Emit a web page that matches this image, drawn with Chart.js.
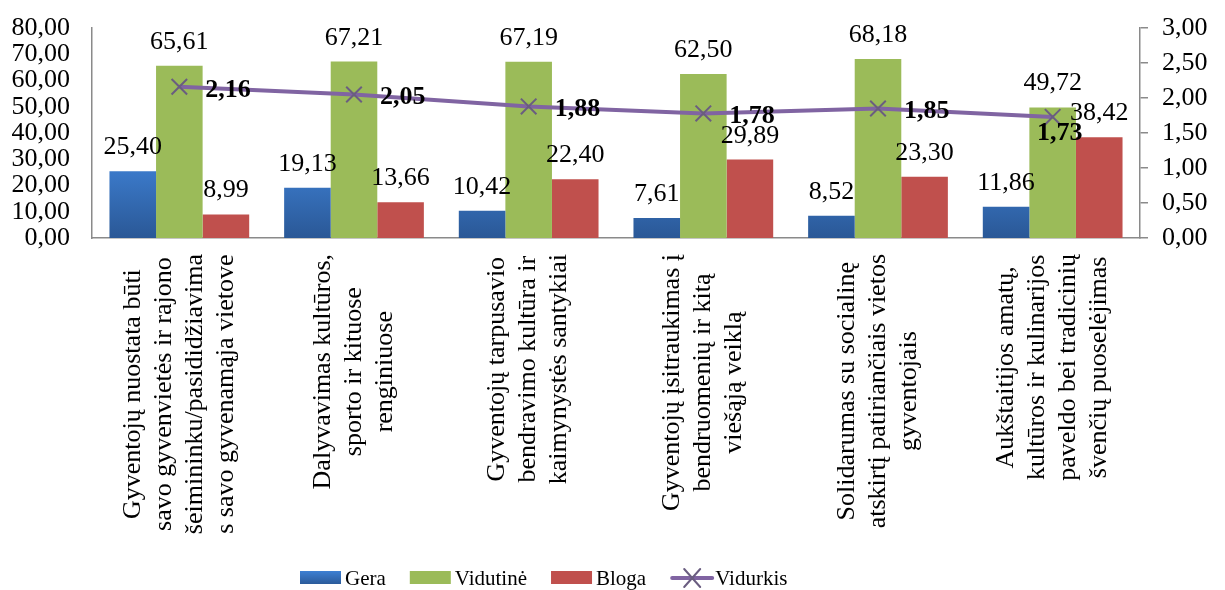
<!DOCTYPE html>
<html>
<head>
<meta charset="utf-8">
<script src="https://cdn.jsdelivr.net/npm/chart.js@4.4.1/dist/chart.umd.min.js"></script>
<style>
  html, body { margin: 0; padding: 0; background: #fff; }
</style>
</head>
<body>
<canvas id="chart" width="1225" height="590"></canvas>
<script>
const categories = [
  ["Gyventojų nuostata būti", "savo gyvenvietės ir rajono", "šeimininku/pasididžiavima", "s savo gyvenamąja vietove"],
  ["Dalyvavimas kultūros,", "sporto ir kituose", "renginiuose"],
  ["Gyventojų tarpusavio", "bendravimo kultūra ir", "kaimynystės santykiai"],
  ["Gyventojų įsitraukimas į", "bendruomenių ir kitą", "viešąją veiklą"],
  ["Solidarumas su socialinę", "atskirtį patiriančiais vietos", "gyventojais"],
  ["Aukštaitijos amatų,", "kultūros ir kulinarijos", "paveldo bei tradicinių", "švenčių puoselėjimas"]
];
const gera = [25.40, 19.13, 10.42, 7.61, 8.52, 11.86];
const vidutine = [65.61, 67.21, 67.19, 62.50, 68.18, 49.72];
const bloga = [8.99, 13.66, 22.40, 29.89, 23.30, 38.42];
const vidurkis = [2.16, 2.05, 1.88, 1.78, 1.85, 1.73];

const FONT = '"Liberation Serif", "Times New Roman", serif';
const fmt = v => v.toFixed(2).replace(".", ",");

function blueFill(c) {
  const a = c.chart.chartArea;
  if (!a) return "#3A73BE";
  const g = c.chart.ctx.createLinearGradient(0, a.bottom - 80, 0, a.bottom);
  g.addColorStop(0, "#3E80D3");
  g.addColorStop(1, "#2A5896");
  return g;
}

// value labels over the bars and next to the line points
const valueLabels = {
  id: "valueLabels",
  afterDatasetsDraw(chart) {
    const ctx = chart.ctx;
    ctx.save();
    ctx.fillStyle = "#000";
    chart.data.datasets.forEach((ds, di) => {
      const meta = chart.getDatasetMeta(di);
      meta.data.forEach((el, i) => {
        const txt = fmt(ds.data[i]);
        if (ds.type === "bar") {
          ctx.font = "26px " + FONT;
          ctx.textAlign = "center";
          ctx.textBaseline = "alphabetic";
          ctx.fillText(txt, el.x, el.y - 17);
        } else {
          ctx.font = "bold 26px " + FONT;
          ctx.textBaseline = "middle";
          if (i === meta.data.length - 1) {
            ctx.textAlign = "center";
            ctx.fillText(txt, el.x + 7, el.y + 16);
          } else {
            ctx.textAlign = "left";
            ctx.fillText(txt, el.x + 26, el.y + 3);
          }
        }
      });
    });
    ctx.restore();
  }
};

// rotated, centred category labels and the legend
const extras = {
  id: "extras",
  afterDraw(chart) {
    const ctx = chart.ctx;
    const xs = chart.scales.x;
    ctx.save();
    ctx.fillStyle = "#000";
    ctx.font = "26px " + FONT;
    categories.forEach((lines, i) => {
      const cx = xs.getPixelForValue(i);
      const w = Math.max(...lines.map(l => ctx.measureText(l).width));
      const cy = chart.chartArea.bottom + 16 + w / 2;
      const n = lines.length;
      ctx.save();
      ctx.translate(cx, cy);
      ctx.rotate(-Math.PI / 2);
      ctx.textAlign = "center";
      ctx.textBaseline = "middle";
      lines.forEach((l, j) => ctx.fillText(l, 0, (j - (n - 1) / 2) * 31));
      ctx.restore();
    });

    // legend
    ctx.font = "21px " + FONT;
    ctx.textAlign = "left";
    ctx.textBaseline = "middle";
    const ly = 578;
    let x = 300;
    const items = [
      { label: "Gera", color: "#3466AC" },
      { label: "Vidutinė", color: "#9BBB59" },
      { label: "Bloga", color: "#C0504D" },
      { label: "Vidurkis", line: true }
    ];
    items.forEach(it => {
      if (it.line) {
        ctx.strokeStyle = "#8064A2";
        ctx.lineWidth = 4;
        ctx.lineCap = "round";
        ctx.beginPath(); ctx.moveTo(x + 2, ly); ctx.lineTo(x + 42, ly); ctx.stroke();
        ctx.strokeStyle = "#6A5D80";
        ctx.lineWidth = 2;
        ctx.beginPath();
        ctx.moveTo(x + 14, ly - 9); ctx.lineTo(x + 30, ly + 9);
        ctx.moveTo(x + 30, ly - 9); ctx.lineTo(x + 14, ly + 9);
        ctx.stroke();
        x += 45;
      } else {
        if (it.label === "Gera") {
          const g = ctx.createLinearGradient(0, ly - 7, 0, ly + 7);
          g.addColorStop(0, "#3E80D3"); g.addColorStop(1, "#2A5896");
          ctx.fillStyle = g;
        } else ctx.fillStyle = it.color;
        ctx.fillRect(x, ly - 7, 41, 13);
        x += 45;
      }
      ctx.fillStyle = "#000";
      ctx.fillText(it.label, x, ly + 1);
      x += ctx.measureText(it.label).width + 24;
    });
    ctx.restore();
  }
};

const fitY = w => s => { s.width = w; s.paddingTop = 0; s.paddingBottom = 0; };

new Chart(document.getElementById("chart"), {
  data: {
    labels: categories,
    datasets: [
      { type: "bar", label: "Gera", data: gera, backgroundColor: blueFill, yAxisID: "y", order: 1 },
      { type: "bar", label: "Vidutinė", data: vidutine, backgroundColor: "#9BBB59", yAxisID: "y", order: 1 },
      { type: "bar", label: "Bloga", data: bloga, backgroundColor: "#C0504D", yAxisID: "y", order: 1 },
      {
        type: "line", label: "Vidurkis", data: vidurkis, yAxisID: "y1", order: 0,
        borderColor: "#8064A2", borderWidth: 4, tension: 0,
        pointStyle: "crossRot", pointRadius: 11, pointBorderColor: "#6A5D80",
        pointBorderWidth: 2, pointBackgroundColor: "#6A5D80"
      }
    ]
  },
  options: {
    responsive: false,
    animation: false,
    layout: { padding: { top: 28, left: 0, right: 0, bottom: 0 } },
    datasets: { bar: { categoryPercentage: 0.8, barPercentage: 1.0 } },
    plugins: { legend: { display: false }, tooltip: { enabled: false } },
    scales: {
      x: {
        grid: { display: false, drawTicks: false },
        border: { color: "#8a8a8a", width: 1.5 },
        ticks: { display: false },
        afterFit: s => { s.height = 352; s.paddingLeft = 0; s.paddingRight = 0; }
      },
      y: {
        position: "left",
        min: 0, max: 80,
        grid: { display: false, drawTicks: false },
        border: { color: "#8a8a8a", width: 1.5 },
        ticks: { stepSize: 10, autoSkip: false, padding: 22, color: "#000", font: { family: FONT, size: 26 }, callback: v => fmt(v) },
        afterFit: fitY(92)
      },
      y1: {
        position: "right",
        min: 0, max: 3,
        grid: { display: true, drawOnChartArea: false, drawTicks: true, tickLength: 8, color: "#8a8a8a", lineWidth: 1.5 },
        border: { color: "#8a8a8a", width: 1.5 },
        ticks: { stepSize: 0.5, autoSkip: false, padding: 14, color: "#000", font: { family: FONT, size: 26 }, callback: v => fmt(v) },
        afterFit: fitY(85)
      }
    }
  },
  plugins: [valueLabels, extras]
});
</script>
</body>
</html>
